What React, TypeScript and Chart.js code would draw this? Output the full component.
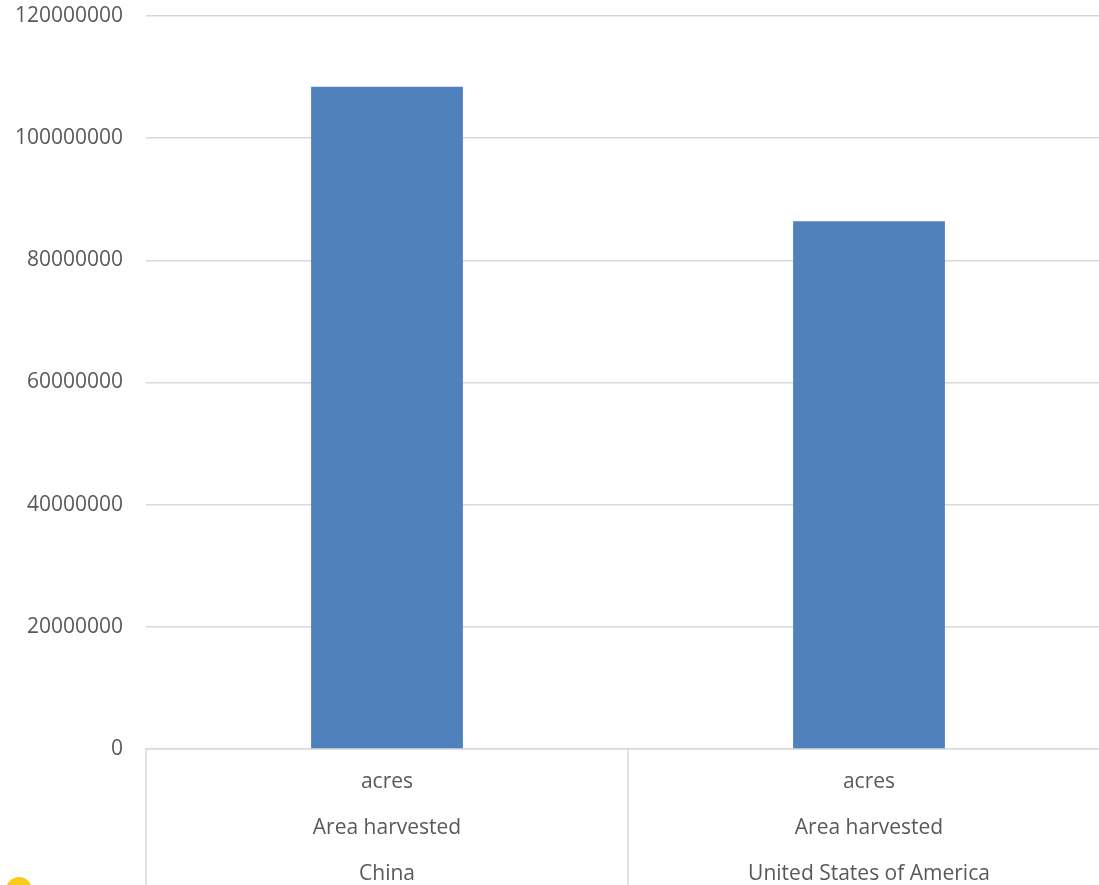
import React, { useEffect, useRef } from "react";
import { Chart, registerables } from "chart.js";

Chart.register(...registerables);

const units = ["acres", "acres"];
const elements = ["Area harvested", "Area harvested"];
const countries = ["China", "United States of America"];
const areaValues = [108400000, 86400000];
const yTickMax = 120000000;
const yTickStep = 20000000;

const separatorPlugin = {
  id: "categorySeparators",
  afterDraw(chart: any) {
    const xs = chart.scales.x;
    const area = chart.chartArea;
    const n = xs.ticks.length;
    if (!n) return;
    const half = (xs.getPixelForValue(1) - xs.getPixelForValue(0)) / 2;
    const ctx = chart.ctx;
    ctx.save();
    ctx.strokeStyle = "#D9D9D9";
    ctx.lineWidth = 1.5;
    for (let i = 0; i <= n; i++) {
      const x = xs.getPixelForValue(0) - half + i * half * 2;
      ctx.beginPath();
      ctx.moveTo(x, area.bottom);
      ctx.lineTo(x, chart.height);
      ctx.stroke();
    }
    ctx.restore();
  },
};

export default function App() {
  const canvasRef = useRef<HTMLCanvasElement | null>(null);

  useEffect(() => {
    if (!canvasRef.current) return;
    const labels = countries.map((c, i) => [units[i], elements[i], c]);
    const chart = new Chart(canvasRef.current, {
      type: "bar",
      data: {
        labels,
        datasets: [
          {
            data: areaValues,
            backgroundColor: "#4F81BD",
            borderWidth: 0,
            categoryPercentage: 1,
            barPercentage: 0.315,
          },
        ],
      },
      options: {
        animation: false,
        responsive: false,
        maintainAspectRatio: false,
        layout: { padding: { top: 16, left: 0, right: 2, bottom: 0 } },
        plugins: { legend: { display: false }, tooltip: { enabled: false } },
        scales: {
          x: {
            grid: { display: false },
            border: { display: true, color: "#D9D9D9", width: 1.5 },
            ticks: {
              padding: 2,
              color: "#595959",
              maxRotation: 0,
              autoSkip: false,
              font: { family: "'Open Sans'", size: 21, lineHeight: 2.19 },
            },
          },
          y: {
            min: 0,
            max: yTickMax,
            afterFit: (scale: any) => {
              scale.width = 146;
              scale.paddingTop = 0;
              scale.paddingBottom = 0;
            },
            grid: { color: "#D9D9D9", drawTicks: false, lineWidth: 1.5 },
            border: { display: false },
            ticks: {
              stepSize: yTickStep,
              padding: 23,
              color: "#595959",
              font: { family: "'Open Sans'", size: 21 },
              callback: (v: any) => String(v),
            },
          },
        },
      },
      plugins: [separatorPlugin],
    });
    return () => chart.destroy();
  }, []);

  return (
    <div
      style={{
        position: "fixed",
        left: 0,
        top: 0,
        width: 1099,
        height: 885,
        overflow: "hidden",
        background: "#fff",
      }}
    >
      <canvas ref={canvasRef} width={1112} height={899} style={{ display: "block" }} />
      <div
        style={{
          position: "absolute",
          left: 6,
          top: 877,
          width: 26,
          height: 26,
          borderRadius: "50%",
          background: "#F9CB1C",
        }}
      />
    </div>
  );
}
